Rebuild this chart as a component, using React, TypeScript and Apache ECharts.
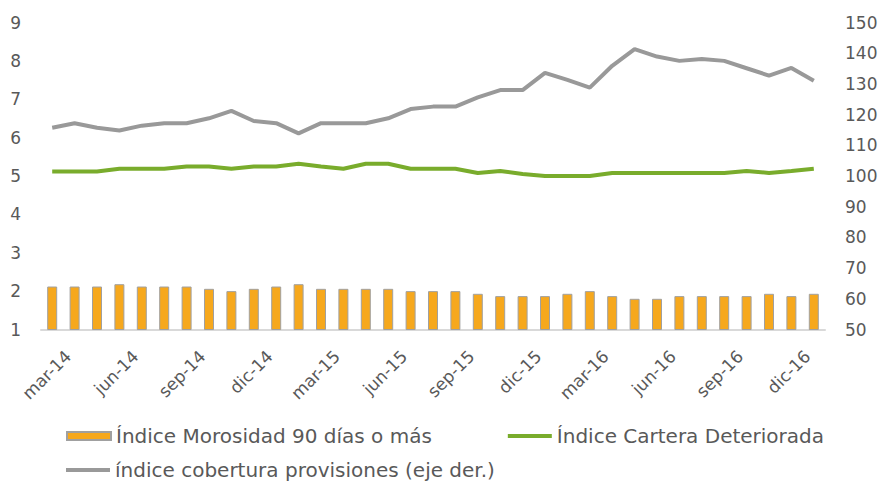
import React, { useEffect, useRef } from "react";
import * as echarts from "echarts";

const categories = [
  "mar-14", "abr-14", "may-14", "jun-14", "jul-14", "ago-14", "sep-14", "oct-14", "nov-14", "dic-14",
  "ene-15", "feb-15", "mar-15", "abr-15", "may-15", "jun-15", "jul-15", "ago-15", "sep-15", "oct-15", "nov-15", "dic-15",
  "ene-16", "feb-16", "mar-16", "abr-16", "may-16", "jun-16", "jul-16", "ago-16", "sep-16", "oct-16", "nov-16", "dic-16",
  "ene-17",
];

const morosidad = [
  2.12, 2.12, 2.12, 2.18, 2.12, 2.12, 2.12, 2.06, 2.0, 2.06, 2.12, 2.18,
  2.06, 2.06, 2.06, 2.06, 2.0, 2.0, 2.0, 1.93, 1.87, 1.87, 1.87, 1.93,
  2.0, 1.87, 1.8, 1.8, 1.87, 1.87, 1.87, 1.87, 1.93, 1.87, 1.93,
];

const carteraDeteriorada = [
  5.12, 5.12, 5.12, 5.19, 5.19, 5.19, 5.25, 5.25, 5.19, 5.25, 5.25, 5.32,
  5.25, 5.19, 5.32, 5.32, 5.19, 5.19, 5.19, 5.08, 5.13, 5.05, 5.0, 5.0,
  5.0, 5.08, 5.08, 5.08, 5.08, 5.08, 5.08, 5.13, 5.08, 5.13, 5.19,
];

const cobertura = [
  115.7, 117.2, 115.7, 114.8, 116.4, 117.2, 117.2, 118.8, 121.2, 117.9, 117.2, 113.9,
  117.2, 117.2, 117.2, 118.8, 121.8, 122.6, 122.6, 125.6, 128, 128, 133.6, 131.3,
  128.8, 135.9, 141.3, 138.9, 137.5, 138.1, 137.5, 135.1, 132.7, 135.2, 131,
];

const seriesNames = [
  "Índice Morosidad 90 días o más",
  "Índice Cartera Deteriorada",
  "índice cobertura provisiones (eje der.)",
];

const LABEL_EVERY = 3;

const FONT = "DejaVu Sans";
const TEXT = "#595959";
const LINE_ICON = "path://M0,0H44V4H0Z";

export default function App() {
  const ref = useRef<HTMLDivElement>(null);
  useEffect(() => {
    if (!ref.current) return;
    const chart = echarts.init(ref.current, undefined, { renderer: "svg" });
    chart.setOption({
      animation: false,
      textStyle: { fontFamily: FONT },
      grid: { left: 41, right: 57, top: 22.5, bottom: 155.5, containLabel: false },
      legend: [
        {
          left: 61,
          top: 421,
          itemWidth: 44,
          itemHeight: 8,
          itemGap: 76,
          textStyle: { fontSize: 20, color: TEXT, fontFamily: FONT },
          data: [
            { name: seriesNames[0], icon: "rect" },
            { name: seriesNames[1], icon: LINE_ICON },
          ],
        },
        {
          left: 61,
          top: 455,
          itemWidth: 44,
          itemHeight: 8,
          textStyle: { fontSize: 20, color: TEXT, fontFamily: FONT },
          data: [{ name: seriesNames[2], icon: LINE_ICON }],
        },
      ],
      xAxis: {
        type: "category",
        data: categories,
        boundaryGap: true,
        axisLine: { lineStyle: { color: "#D9D9D9", width: 2 } },
        axisTick: { interval: LABEL_EVERY - 1, length: 5, lineStyle: { color: "#D9D9D9", width: 1.5 } },
        axisLabel: {
          interval: LABEL_EVERY - 1,
          rotate: 45,
          margin: 8,
          verticalAlign: "top",
          padding: [14, 0, 0, 0],
          color: TEXT,
          fontSize: 17,
          fontFamily: FONT,
          hideOverlap: false,
        },
      },
      yAxis: [
        {
          type: "value",
          min: 1,
          max: 9,
          interval: 1,
          axisLine: { show: false },
          axisTick: { show: false },
          splitLine: { show: false },
          axisLabel: { color: TEXT, fontSize: 17, margin: 20, fontFamily: FONT },
        },
        {
          type: "value",
          min: 50,
          max: 150,
          interval: 10,
          position: "right",
          axisLine: { show: false },
          axisTick: { show: false },
          splitLine: { show: false },
          axisLabel: { color: TEXT, fontSize: 17, margin: 20, fontFamily: FONT },
        },
      ],
      series: [
        {
          name: seriesNames[0],
          type: "bar",
          data: morosidad,
          yAxisIndex: 0,
          barWidth: 10,
          clip: true,
          itemStyle: { color: "#F6A81D", borderColor: "#A0A0A0", borderWidth: 1 },
        },
        {
          name: seriesNames[1],
          type: "line",
          data: carteraDeteriorada,
          yAxisIndex: 0,
          symbol: "none",
          lineStyle: { color: "#79AC2C", width: 4 },
          itemStyle: { color: "#79AC2C" },
        },
        {
          name: seriesNames[2],
          type: "line",
          data: cobertura,
          yAxisIndex: 1,
          symbol: "none",
          lineStyle: { color: "#999999", width: 4 },
          itemStyle: { color: "#999999" },
        },
      ],
    });
    return () => chart.dispose();
  }, []);
  return (
    <div
      ref={ref}
      style={{ position: "absolute", left: 0, top: 0, width: 882, height: 485, background: "#fff" }}
    />
  );
}
